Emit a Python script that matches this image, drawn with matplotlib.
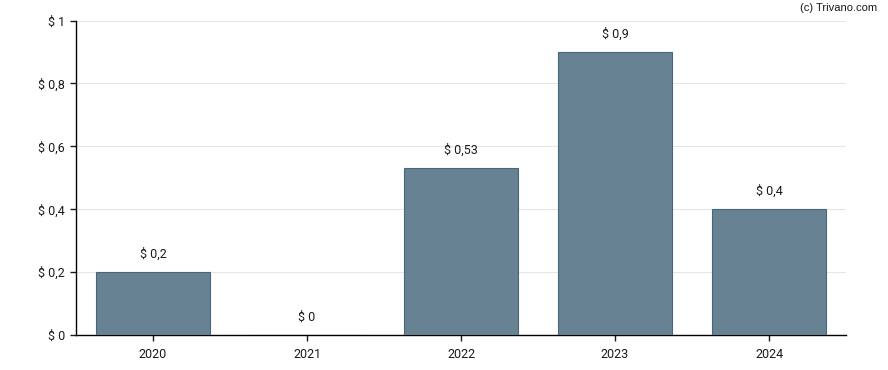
import matplotlib
matplotlib.use("Agg")
import matplotlib.pyplot as plt

years = ["2020", "2021", "2022", "2023", "2024"]
values = [0.2, 0.0, 0.53, 0.9, 0.4]
labels = ["$ 0,2", "$ 0", "$ 0,53", "$ 0,9", "$ 0,4"]
yticks = [0, 0.2, 0.4, 0.6, 0.8, 1.0]
ytick_labels = ["$ 0", "$ 0,2", "$ 0,4", "$ 0,6", "$ 0,8", "$ 1"]

plt.rcParams['font.family'] = ['Roboto', 'DejaVu Sans']

fig = plt.figure(figsize=(8.88, 3.70), dpi=100)
ax = fig.add_axes([76/888, 35/370, (846-76)/888, (335-20.5)/370])

x = list(range(len(years)))
ax.bar(x, values, width=0.74, color="#668293", edgecolor="#4a6478", linewidth=0.8, zorder=3)

for xi, v, lab in zip(x, values, labels):
    ax.annotate(lab, (xi, v), xytext=(0, 13), textcoords="offset points",
                ha="center", va="center", fontsize=9, color="#1a1a1a")

ax.set_xlim(-0.5, 4.5)
ax.set_ylim(0, 1)
ax.set_xticks(x)
ax.set_xticklabels(years)
ax.set_yticks(yticks)
ax.set_yticklabels(ytick_labels)
ax.tick_params(axis="both", labelsize=9, colors="#1a1a1a", length=4, width=1)
ax.tick_params(axis="x", pad=5)
ax.tick_params(axis="y", pad=4)
ax.grid(axis="y", color="#e6e6e6", linewidth=0.8, zorder=0)
ax.set_axisbelow(True)
for s in ["top", "right"]:
    ax.spines[s].set_visible(False)
for s in ["left", "bottom"]:
    ax.spines[s].set_color("black")
    ax.spines[s].set_linewidth(1)

fig.text(877/888, 1 - 8/370, "(c) Trivano.com", ha="right", va="center",
         fontsize=8, color="#1a1a1a", family=["Liberation Sans", "DejaVu Sans"])

fig.savefig("out.png", dpi=100)
